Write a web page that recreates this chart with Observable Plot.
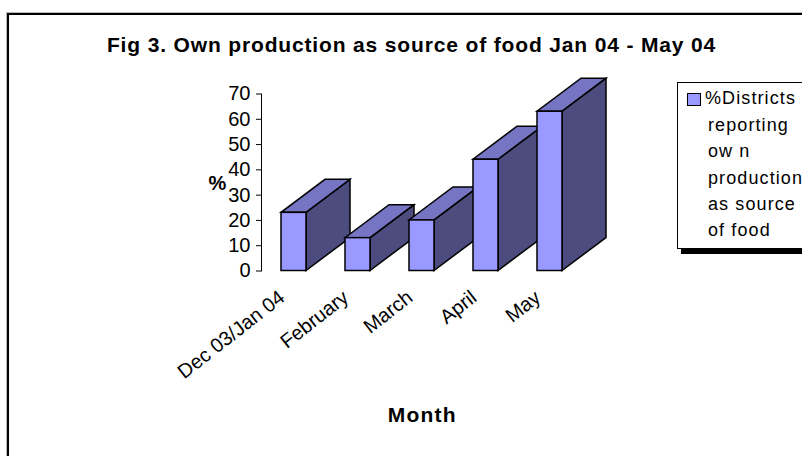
<!DOCTYPE html>
<html>
<head>
<meta charset="utf-8">
<script src="https://cdn.jsdelivr.net/npm/d3@7"></script>
<script src="https://cdn.jsdelivr.net/npm/@observablehq/plot@0.6"></script>
<style>
  html, body { margin: 0; padding: 0; background: #fff; overflow: hidden; }
  #wrap { position: relative; width: 802px; height: 456px; overflow: hidden; font-family: "Liberation Sans", Arial, sans-serif; }
  #border { position: absolute; left: 7px; top: 13px; width: 1000px; height: 600px; border-left: 2px solid #000; border-top: 2px solid #000; box-shadow: -1px -1px 0 0 #bbb; }
  #title { position: absolute; left: 0; top: 34px; width: 823px; text-align: center; font-weight: bold; font-size: 21px; line-height: 21px; letter-spacing: 0.85px; color: #000; white-space: nowrap; }
  #chart { position: absolute; left: 0; top: 0; }
  #legend { position: absolute; left: 677px; top: 82px; width: 200px; height: 165px; border: 1px solid #000; background: #fff; box-shadow: 4px 5px 0 0 #000; }
  .lline { position: absolute; font-size: 18px; line-height: 26.4px; letter-spacing: 1.1px; white-space: nowrap; color: #000; }
  #swatch { position: absolute; left: 9px; top: 10px; width: 12px; height: 11px; border: 1px solid #000; background: #9999FF; }
</style>
</head>
<body>
<div id="wrap">
  <div id="border"></div>
  <div id="title"></div>
  <div id="chart"></div>
  <div id="legend"><div id="swatch"></div></div>
</div>
<script>
// ---- data ----
const months = ["Dec 03/Jan 04", "February", "March", "April", "May"];
const values = [23, 13, 20, 44, 63];
const yTicks = [0, 10, 20, 30, 40, 50, 60, 70];
const titleText = "Fig 3. Own production as source of food Jan 04 - May 04";
const yLabel = "%";
const xLabel = "Month";
const legendLines = ["%Districts", "reporting", "ow n", "production", "as source", "of food"];

// ---- styles ----
const frontColor = "#9999FF";
const topColor = "#7575C4";
const sideColor = "#4C4C7E";
const depthX = 44, depthY = 33;

const data = months.map((m, i) => ({month: m, value: values[i]}));

function box3d(index, scales, vals) {
  const X = vals.x, Y1 = vals.y1, Y2 = vals.y2;
  const bw = scales.x.bandwidth();
  const g = d3.create("svg:g")
    .attr("stroke", "#000").attr("stroke-width", 1.5).attr("stroke-linejoin", "miter");
  for (const i of index) {
    const xa = X ? X[i] : scales.x(data[i].month);
    const xb = xa + bw;
    const yb = Math.max(Y1[i], Y2[i]), yt = Math.min(Y1[i], Y2[i]);
    g.append("path").attr("fill", sideColor)
      .attr("d", `M${xb},${yb}L${xb},${yt}L${xb + depthX},${yt - depthY}L${xb + depthX},${yb - depthY}Z`);
    g.append("path").attr("fill", topColor)
      .attr("d", `M${xa},${yt}L${xb},${yt}L${xb + depthX},${yt - depthY}L${xa + depthX},${yt - depthY}Z`);
    g.append("rect").attr("fill", frontColor)
      .attr("x", xa).attr("y", yt).attr("width", bw).attr("height", yb - yt);
  }
  return g.node();
}

const plot = Plot.plot({
  width: 802,
  height: 456,
  marginTop: 93.5,
  marginBottom: 456 - 270.5,
  marginLeft: 261,
  marginRight: 802 - 581.5,
  style: {fontFamily: "Liberation Sans, Arial, sans-serif", color: "#000", background: "transparent", overflow: "visible"},
  x: {domain: months, range: [261.5, 581.5], paddingInner: 0.61, paddingOuter: 0.305, align: 0.5, axis: null},
  y: {domain: [0, 70], range: [270.5, 93.5], axis: null},
  marks: [
    Plot.axisY(yTicks, {tickSize: 5, tickPadding: 6, fontSize: 20, label: null, stroke: "#000"}),
    Plot.frame({anchor: "left", stroke: "#000", strokeWidth: 1}),
    Plot.barY(data, {x: "month", y: "value", fill: frontColor, render: box3d}),
    Plot.text(months, {x: d => d, frameAnchor: "bottom", rotate: -38, textAnchor: "end", lineAnchor: "bottom", dy: 29, dx: -8, fontSize: 20, fill: "#000"}),
    Plot.text([yLabel], {frameAnchor: "left", dx: -53, dy: 1.5, fontSize: 20, fontWeight: "bold", fill: "#000"}),
    Plot.text([xLabel], {frameAnchor: "bottom", lineAnchor: "middle", dy: 144, dx: 0.5, fontSize: 21, fontWeight: "bold", fill: "#000"})
  ]
});
document.getElementById("chart").appendChild(plot);
d3.select(plot).selectAll("text").filter(function () { return this.textContent === xLabel; })
  .attr("letter-spacing", "1.2px");

document.getElementById("title").textContent = titleText;

const legend = document.getElementById("legend");
legendLines.forEach((t, i) => {
  const d = document.createElement("div");
  d.className = "lline";
  d.textContent = t;
  d.style.left = (i === 0 ? 27 : 30) + "px";
  d.style.top = (2.3 + i * 26.4) + "px";
  legend.appendChild(d);
});
</script>
</body>
</html>
